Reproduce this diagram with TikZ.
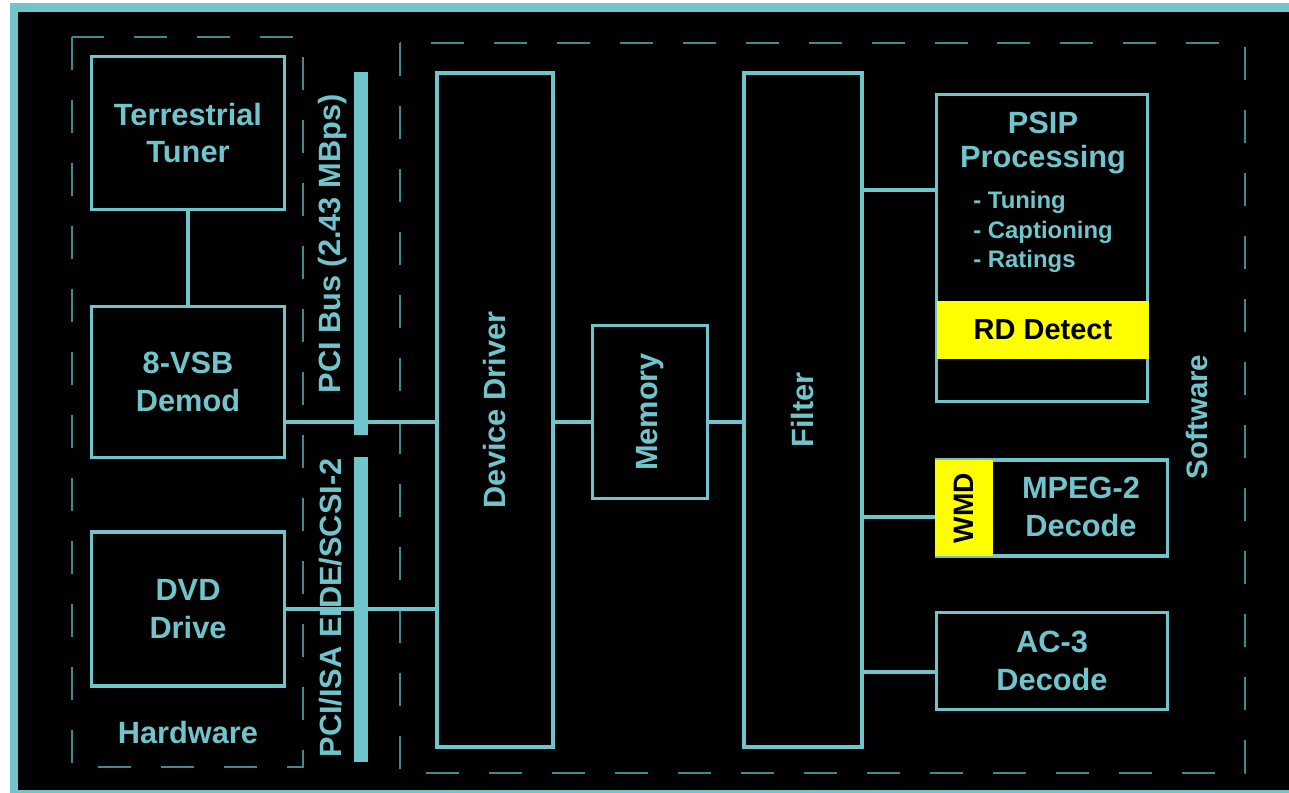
\documentclass[tikz,border=0pt]{standalone}
\usepackage{fontspec}
\setmainfont{Liberation Sans}
\usepackage{xcolor}
\usepackage{graphicx}
\usepackage{tikz}
\usetikzlibrary{positioning,calc}
\definecolor{tealline}{RGB}{112,196,204}
\definecolor{tealdash}{RGB}{62,138,142}
\definecolor{hiyellow}{RGB}{255,255,0}

\begin{document}
\begin{tikzpicture}[x=0.02cm,y=-0.02cm,
    box/.style={draw=tealline,line width=1.8pt,fill=black,text=tealline,align=center,font=\bfseries\fontsize{17.5}{21.5}\selectfont},
    hl/.style={fill=hiyellow,text=black,align=center,font=\bfseries\fontsize{16.5}{20}\selectfont},
    lbl/.style={text=tealline,align=center,font=\bfseries\fontsize{17.5}{21.5}\selectfont},
    conn/.style={draw=tealline,line width=1.8pt},
    zone/.style={draw=tealdash,line width=1.5pt,dash pattern=on 0.66cm off 0.6cm},
    bus/.style={fill=tealline}
  ]
    \useasboundingbox (0,0) rectangle (1289,793);
    \fill[white] (0,0) rectangle (1289,793);
    \fill[tealline] (10,3) rectangle (1289,793);
    \fill[black] (18,12) rectangle (1289,790);

    % hardware / software zones
    \draw[zone] (72,37) rectangle (303,767);
    \draw[zone] (400,43) rectangle (1245,773);

    % hardware side
    \node[box,minimum width=3.86cm,minimum height=3.06cm] (tuner) at (188,133) {Terrestrial\\Tuner};
    \node[box,minimum width=3.86cm,minimum height=3.02cm] (demod) at (188,382) {8-VSB\\Demod};
    \node[box,minimum width=3.86cm,minimum height=3.08cm] (dvd) at (188,609) {DVD\\Drive};
    \node[lbl] (hw) at (188,733) {Hardware};

    % buses
    \fill[bus] (354,72) rectangle (368,435);
    \fill[bus] (354,457) rectangle (368,762);
    \node[lbl,rotate=90] (pcibus) at (333,244) {PCI Bus (2.43 MBps)};
    \node[lbl,rotate=90] (idebus) at (331,608) {PCI/ISA EIDE/SCSI-2};

    % software side
    \node[box,minimum width=2.32cm,minimum height=13.48cm] (driver) at (495,410) {\rotatebox{90}{Device Driver}};
    \node[box,minimum width=2.30cm,minimum height=3.46cm] (memory) at (650,412) {\rotatebox{90}{Memory}};
    \node[box,minimum width=2.36cm,minimum height=13.48cm] (filter) at (803,410) {\rotatebox{90}{Filter}};

    \node[box,minimum width=4.22cm,minimum height=6.14cm] (psip) at (1042,248) {};
    \node[lbl,font=\bfseries\fontsize{17.5}{19}\selectfont] (psiptitle) at (1043,143) {PSIP\\Processing};
    \node[lbl,align=left,anchor=west,inner sep=0pt,font=\bfseries\fontsize{13.6}{17}\selectfont] (psiplist) at (973,232) {- Tuning\\- Captioning\\- Ratings};
    \node[hl,minimum width=4.26cm,minimum height=1.18cm] (rd) at (1043,330) {RD Detect};

    \node[box,minimum width=4.62cm,minimum height=1.92cm] (mpeg) at (1052,508) {};
    \node[hl,anchor=west,minimum width=1.16cm,minimum height=1.92cm,inner sep=0pt,font=\bfseries\fontsize{16}{19}\selectfont] (wmd) at (mpeg.west) {\rotatebox{90}{WMD}};
    \node[lbl] (mpegtxt) at (1081,507) {MPEG-2\\Decode};

    \node[box,minimum width=4.62cm,minimum height=1.94cm] (ac3) at (1052,661) {AC-3\\Decode};
    \node[lbl,rotate=90,font=\bfseries\fontsize{16.8}{20}\selectfont] (sw) at (1197,417) {Software};

    % connections
    \coordinate (rowA) at (0,422);
    \coordinate (rowB) at (0,609);
    \coordinate (tapP) at (0,190);
    \coordinate (tapW) at (0,517);
    \coordinate (tapA) at (0,672);
    \draw[conn] (tuner) -- (demod);
    \draw[conn] (demod.east |- rowA) -- (driver.west |- rowA);
    \draw[conn] (dvd.east |- rowB) -- (driver.west |- rowB);
    \draw[conn] (driver.east |- rowA) -- (memory.west |- rowA);
    \draw[conn] (memory.east |- rowA) -- (filter.west |- rowA);
    \foreach \t/\n in {tapP/psip,tapW/wmd,tapA/ac3}{
      \draw[conn] (filter.east |- \t) -- (\n.west |- \t);
    }
\end{tikzpicture}
\end{document}
